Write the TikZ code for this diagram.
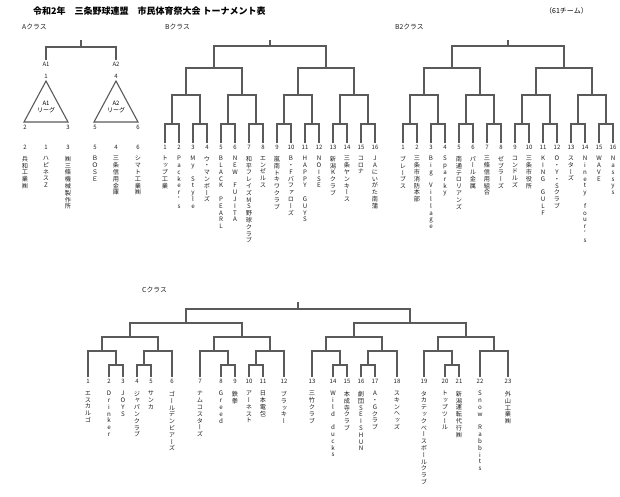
\documentclass[tikz,border=0pt]{standalone}
\usepackage{fontspec}
\setmainfont{Noto Sans CJK JP}
\newfontfamily\tatefont{Noto Sans CJK JP}[RawFeature=+vert]
\usepackage{tikz}
\usetikzlibrary{calc}
\definecolor{lineg}{HTML}{5A5A5A}
\definecolor{inkg}{HTML}{1E1E1E}
% vertical (tate) team names, one character per row
\makeatletter
\newcommand\tate[1]{\vbox{\baselineskip=6.8pt\lineskiplimit=-20pt\lineskip=0pt
  \@tfor\tatech:=#1\do{\hbox to 8pt{\hss\tatech\hss}}}}
\makeatother
\tikzset{
  % bracket lines
  bline/.style={draw=lineg, line width=1.1pt},
  % entry numbers under the bracket
  leafnum/.style={inner sep=0pt, outer sep=1.5pt, text=inkg,
    font=\fontsize{6}{6}\selectfont},
  % team names
  teamname/.style={anchor=north, inner sep=0pt, text=inkg,
    font=\tatefont\fontsize{6.2}{6.8}\selectfont},
  % class titles
  classlabel/.style={anchor=west, inner sep=0pt, text=inkg,
    font=\fontsize{6.8}{7}\selectfont},
}
% 16-team bracket: #1 name prefix, #2 x of entry 1
\newcommand\sixteenbracket[2]{%
  \foreach \i in {1,...,16}
    \node[leafnum] (#1\i) at ({#2+14*(\i-1)},147) {\i};
  \foreach \k in {1,...,8}{
    \pgfmathtruncatemacro\ka{2*\k-1}
    \pgfmathtruncatemacro\kb{2*\k}
    \coordinate (#1q\k) at ({#2+28*(\k-1)+7},124);
    \draw[bline] (#1\ka.north) |- (#1q\k) -| (#1\kb.north);
  }
  \foreach \k in {1,...,4}{
    \pgfmathtruncatemacro\ka{2*\k-1}
    \pgfmathtruncatemacro\kb{2*\k}
    \coordinate (#1t\k) at ({#2+56*(\k-1)+21},95);
    \draw[bline] (#1q\ka) |- (#1t\k) -| (#1q\kb);
  }
  \coordinate (#1h1) at ({#2+49},68);
  \coordinate (#1h2) at ({#2+161},68);
  \draw[bline] (#1t1) |- (#1h1) -| (#1t2);
  \draw[bline] (#1t3) |- (#1h2) -| (#1t4);
  \coordinate (#1f) at ({#2+105},46);
  \coordinate (#1tick) at ({#2+105},40);
  \draw[bline] (#1h1) |- (#1f) -| (#1h2);
  \draw[bline] (#1f) -- (#1tick);
}

\begin{document}
\begin{tikzpicture}[x=1pt, y=-1pt]
  \useasboundingbox (0,0) rectangle (620,496);

  % Title
  \node[anchor=west, inner sep=0pt, font=\bfseries\fontsize{9}{10}\selectfont] (title) at (33,11)
    {令和2年　三条野球連盟　市民体育祭大会 トーナメント表};
  \node[anchor=west, inner sep=0pt, font=\fontsize{7}{8}\selectfont] (total) at (545,11)
    {（61チーム）};

  % Class titles
  \node[classlabel] (acls) at (22,27) {Aクラス};
  \node[classlabel] (bcls) at (165,27) {Bクラス};
  \node[classlabel] (bbcls) at (395,27) {B2クラス};
  \node[classlabel] (ccls) at (142,290) {Cクラス};

  % A class: two leagues
  \node[leafnum] (alg1) at (46,64) {A1};
  \node[leafnum] (alg2) at (116,64) {A2};
  \coordinate (af) at (81,47);
  \coordinate (atick) at (81,40);
  \draw[bline] (alg1.north) |- (af) -| (alg2.north);
  \draw[bline] (af) -- (atick);

  \node[leafnum] (at1) at (46,76) {1};
  \node[leafnum] (at2) at (25,127) {2};
  \node[leafnum] (at3) at (68,127) {3};
  \node[leafnum] (at4) at (116,76) {4};
  \node[leafnum] (at5) at (95,127) {5};
  \node[leafnum] (at6) at (138,127) {6};
  \coordinate (a1top) at (46,81);
  \coordinate (a1left) at (24,122);
  \coordinate (a1right) at (68,122);
  \coordinate (a2top) at (116,81);
  \coordinate (a2left) at (94,122);
  \coordinate (a2right) at (138,122);
  \draw[bline] (a1top) -- (a1left) -- (a1right) -- cycle;
  \draw[bline] (a2top) -- (a2left) -- (a2right) -- cycle;
  \node[align=center, inner sep=0pt, font=\fontsize{6}{7.5}\selectfont] (a1name) at (46,107) {A1\\リーグ};
  \node[align=center, inner sep=0pt, font=\fontsize{6}{7.5}\selectfont] (a2name) at (116,107) {A2\\リーグ};

  \foreach \i/\x/\t in {2/25/兵和工業㈱, 1/46/ハピネスZ, 3/68/㈱三條機械製作所,
      5/95/ＢＯＳＥ, 4/116/三条信用金庫, 6/138/シマト工業㈱}{
    \node[leafnum] (a\i) at (\x,147) {\i};
    \node[teamname] (an\i) at (\x,156) {\expandafter\tate\expandafter{\t}};
  }

  % B class
  \sixteenbracket{b}{165}
  \foreach \i/\t in {1/トップ工業, 2/Packer's, 3/My~Style, 4/ウ・マンボーズ,
      5/BLACK~PEARL, 6/NEW~FUJITA, 7/和平フレイズMS野球クラブ, 8/エンゼルス,
      9/嵐南トキワクラブ, 10/B・Fバファローズ, 11/HAPPY~GUYS, 12/NOISE,
      13/新潟Kクラブ, 14/三条ヤンキース, 15/コロナ, 16/JAにいがた南蒲}
    \node[teamname] (bn\i) at ({165+14*(\i-1)},156) {\expandafter\tate\expandafter{\t}};

  % B2 class
  \sixteenbracket{bb}{403}
  \foreach \i/\t in {1/ブレーブス, 2/三条市消防本部, 3/Big~Village, 4/Sparky,
      5/南通テロリアンズ, 6/パール金属, 7/三條信用組合, 8/ゼブラーズ,
      9/コンドルズ, 10/三条市役所, 11/KING~GULF, 12/O・Y・Sクラブ,
      13/スターズ, 14/Ninety~four's, 15/WAVE, 16/Nassys}
    \node[teamname] (bbn\i) at ({403+14*(\i-1)},156) {\expandafter\tate\expandafter{\t}};

  % C class
  \foreach \i/\x/\t in {1/88/エスカルゴ, 2/109/Drinker, 3/123/JOYS, 4/137/ジャパンクラブ,
      5/151/サンカ, 6/172/ゴールデンビアーズ, 7/200/ナムコスターズ, 8/221/Greed,
      9/235/鉄拳, 10/249/アーネスト, 11/263/日本電包, 12/284/ブラッキー,
      13/312/三竹クラブ, 14/333/Wild~ducks, 15/347/本成寺クラブ, 16/361/劇団SEISHUN,
      17/375/A・Gクラブ, 18/397/スキンヘッズ, 19/424/タカテックベースボールクラブ,
      20/445/トップツール, 21/459/新潟運転代行㈱, 22/480/Snow~Rabbits, 23/508/外山工業㈱}{
    \node[leafnum] (c\i) at (\x,381) {\i};
    \node[teamname] (cn\i) at (\x,391) {\expandafter\tate\expandafter{\t}};
  }

  \coordinate (cp23) at (116,365);
  \coordinate (cp45) at (144,365);
  \coordinate (cp89) at (228,365);
  \coordinate (cp1011) at (256,365);
  \coordinate (cp1415) at (340,365);
  \coordinate (cp1617) at (368,365);
  \coordinate (cp2021) at (452,365);
  \draw[bline] (c2.north) |- (cp23) -| (c3.north);
  \draw[bline] (c4.north) |- (cp45) -| (c5.north);
  \draw[bline] (c8.north) |- (cp89) -| (c9.north);
  \draw[bline] (c10.north) |- (cp1011) -| (c11.north);
  \draw[bline] (c14.north) |- (cp1415) -| (c15.north);
  \draw[bline] (c16.north) |- (cp1617) -| (c17.north);
  \draw[bline] (c20.north) |- (cp2021) -| (c21.north);

  \coordinate (cu1) at (102,351);
  \coordinate (cu2) at (158,351);
  \coordinate (cu3) at (214,351);
  \coordinate (cu4) at (270,351);
  \coordinate (cu5) at (326,351);
  \coordinate (cu6) at (382,351);
  \coordinate (cu7) at (438,351);
  \coordinate (cu8) at (494,351);
  \draw[bline] (c1.north) |- (cu1) -| (cp23);
  \draw[bline] (cp45) |- (cu2) -| (c6.north);
  \draw[bline] (c7.north) |- (cu3) -| (cp89);
  \draw[bline] (cp1011) |- (cu4) -| (c12.north);
  \draw[bline] (c13.north) |- (cu5) -| (cp1415);
  \draw[bline] (cp1617) |- (cu6) -| (c18.north);
  \draw[bline] (c19.north) |- (cu7) -| (cp2021);
  \draw[bline] (c22.north) |- (cu8) -| (c23.north);

  \coordinate (cv1) at (130,337);
  \coordinate (cv2) at (242,337);
  \coordinate (cv3) at (354,337);
  \coordinate (cv4) at (466,337);
  \draw[bline] (cu1) |- (cv1) -| (cu2);
  \draw[bline] (cu3) |- (cv2) -| (cu4);
  \draw[bline] (cu5) |- (cv3) -| (cu6);
  \draw[bline] (cu7) |- (cv4) -| (cu8);

  \coordinate (cw1) at (186,323);
  \coordinate (cw2) at (410,323);
  \draw[bline] (cv1) |- (cw1) -| (cv2);
  \draw[bline] (cv3) |- (cw2) -| (cv4);

  \coordinate (cf) at (298,309);
  \coordinate (ctick) at (298,302);
  \draw[bline] (cw1) |- (cf) -| (cw2);
  \draw[bline] (cf) -- (ctick);
\end{tikzpicture}
\end{document}
